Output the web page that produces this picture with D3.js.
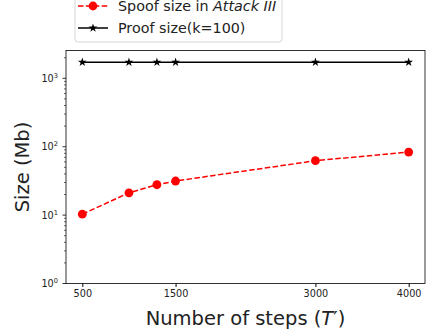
<!DOCTYPE html>
<html>
<head>
<meta charset="utf-8">
<script src="https://cdn.jsdelivr.net/npm/d3@7"></script>
<style>
  body { margin: 0; background: #fff; }
  svg { display: block; font-family: "DejaVu Sans", sans-serif; }
</style>
</head>
<body>
<div id="chart"></div>
<script>
// Data
const steps = [500, 1000, 1300, 1500, 3000, 4000];
const spoofSize = [10.3, 21.2, 27.8, 31.5, 62.4, 83.6];
const proofSize = [1720, 1720, 1720, 1720, 1720, 1720];
const xTicks = [500, 1500, 3000, 4000];
const yTicks = [0, 1, 2, 3];

// Setting up the svg container
const width = 435;
const height = 335;
const margin = { top: 50.5, left: 66, right: 10, bottom: 51.5 };
const plotW = width - margin.left - margin.right;
const plotH = height - margin.top - margin.bottom;

const svg = d3.select('#chart').append('svg')
    .attr('width', width)
    .attr('height', height);

const x = d3.scaleLinear().domain([325, 4175]).range([0, plotW]);
const y = d3.scaleLog().domain([1, 2550]).range([plotH, 0]);

const g = svg.append('g')
    .attr('transform', 'translate(' + margin.left + ',' + margin.top + ')');

// Axes
const xAxis = d3.axisBottom(x).tickValues(xTicks).tickSize(3.5).tickPadding(3.5).tickFormat(d3.format('d'));
g.append('g')
    .attr('transform', 'translate(0,' + plotH + ')')
    .call(xAxis)
    .call(a => a.select('.domain').remove())
    .call(a => a.selectAll('text').attr('font-size', 9.7).attr('fill', '#222').attr('font-family', '"DejaVu Sans", sans-serif'));

// minor ticks on log axis
const minor = [];
for (let dec = 0; dec < 4; dec++) {
    for (let m = 2; m <= 9; m++) {
        const v = m * Math.pow(10, dec);
        if (v <= y.domain()[1]) minor.push(v);
    }
}
g.selectAll('.minor')
    .data(minor)
    .enter().append('line')
    .attr('x1', -2).attr('x2', 0)
    .attr('y1', d => y(d)).attr('y2', d => y(d))
    .attr('stroke', '#000').attr('stroke-width', 0.6);

const yAxis = g.append('g');
yAxis.selectAll('line')
    .data(yTicks)
    .enter().append('line')
    .attr('x1', -3.5).attr('x2', 0)
    .attr('y1', d => y(Math.pow(10, d))).attr('y2', d => y(Math.pow(10, d)))
    .attr('stroke', '#000').attr('stroke-width', 0.8);

const yLabels = yAxis.selectAll('text')
    .data(yTicks)
    .enter().append('text')
    .attr('x', -8)
    .attr('y', d => y(Math.pow(10, d)) + 3.5)
    .attr('text-anchor', 'end')
    .attr('font-size', 9.7)
    .attr('fill', '#222');
yLabels.append('tspan').text('10');
yLabels.append('tspan')
    .attr('font-size', 6.7)
    .attr('dy', -4)
    .text(d => d);

// Frame
g.append('rect')
    .attr('width', plotW).attr('height', plotH)
    .attr('fill', 'none').attr('stroke', '#000').attr('stroke-width', 0.8);

// Lines
const line = d3.line().x(d => x(d[0])).y(d => y(d[1]));
const spoof = steps.map((s, i) => [s, spoofSize[i]]);
const proof = steps.map((s, i) => [s, proofSize[i]]);

g.append('path')
    .attr('d', line(proof))
    .attr('fill', 'none').attr('stroke', '#000').attr('stroke-width', 1.5);
g.selectAll('.star')
    .data(proof)
    .enter().append('path')
    .attr('transform', d => 'translate(' + x(d[0]) + ',' + y(d[1]) + ')')
    .attr('d', d3.symbol().type(d3.symbolStar).size(24))
    .attr('fill', '#000');

g.append('path')
    .attr('d', line(spoof))
    .attr('fill', 'none').attr('stroke', '#ff0000').attr('stroke-width', 1.5)
    .attr('stroke-dasharray', '5.5,2.4');
g.selectAll('.dot')
    .data(spoof)
    .enter().append('circle')
    .attr('cx', d => x(d[0])).attr('cy', d => y(d[1]))
    .attr('r', 4.4)
    .attr('fill', '#ff0000');

// Axis labels
svg.append('text')
    .attr('x', margin.left + plotW / 2)
    .attr('y', 325)
    .attr('text-anchor', 'middle')
    .attr('font-size', 19.5)
    .attr('fill', '#222')
    .html('Number of steps (<tspan font-style="italic">T</tspan>′)');

svg.append('text')
    .attr('transform', 'translate(29,' + (margin.top + plotH / 2) + ') rotate(-90)')
    .attr('text-anchor', 'middle')
    .attr('font-size', 19.5)
    .attr('fill', '#222')
    .text('Size (Mb)');

// Legend (partly outside the top of the figure)
const legend = svg.append('g').attr('transform', 'translate(75,0)');
legend.append('rect')
    .attr('x', 0).attr('y', -14).attr('width', 207).attr('height', 56)
    .attr('rx', 3)
    .attr('fill', '#fff').attr('stroke', '#ccc').attr('stroke-width', 0.8);

legend.append('line')
    .attr('x1', 3).attr('x2', 33).attr('y1', 6).attr('y2', 6)
    .attr('stroke', '#ff0000').attr('stroke-width', 1.5).attr('stroke-dasharray', '5.5,2.4');
legend.append('circle').attr('cx', 18).attr('cy', 6).attr('r', 4.4).attr('fill', '#ff0000');
legend.append('text')
    .attr('x', 43).attr('y', 11)
    .attr('font-size', 14.3).attr('fill', '#222')
    .html('Spoof size in <tspan font-style="italic">Attack III</tspan>');

legend.append('line')
    .attr('x1', 3).attr('x2', 33).attr('y1', 28).attr('y2', 28)
    .attr('stroke', '#000').attr('stroke-width', 1.5);
legend.append('path')
    .attr('transform', 'translate(18,28)')
    .attr('d', d3.symbol().type(d3.symbolStar).size(24))
    .attr('fill', '#000');
legend.append('text')
    .attr('x', 43).attr('y', 33)
    .attr('font-size', 14.3).attr('fill', '#222')
    .text('Proof size(k=100)');
</script>
</body>
</html>
